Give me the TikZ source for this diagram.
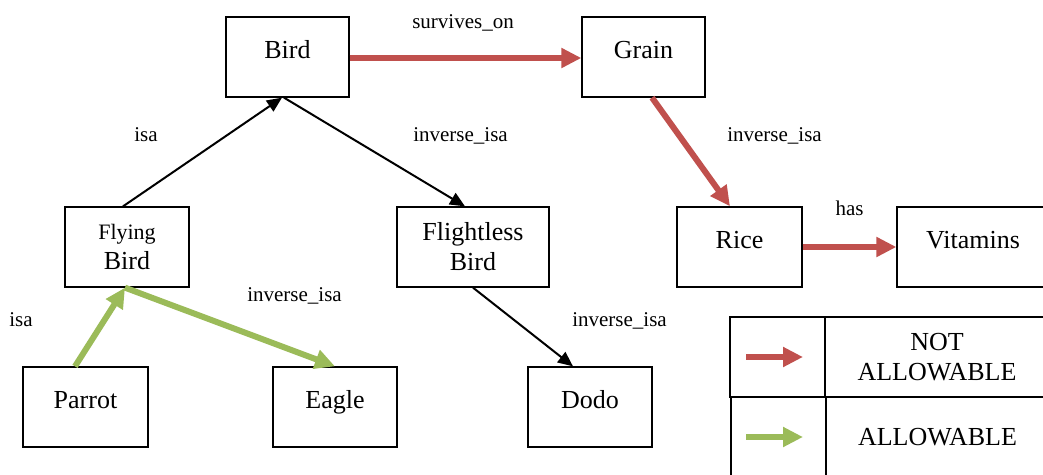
\documentclass[tikz,border=0pt]{standalone}
\usepackage{fontspec}
\setmainfont{Liberation Serif}
\usetikzlibrary{arrows.meta}
\definecolor{denyred}{HTML}{C0504D}
\definecolor{allowgreen}{HTML}{9BBB59}

\begin{document}
\begin{tikzpicture}[x=1pt,y=-1pt,
  concept/.style={draw=black, line width=1.3pt, rectangle, inner sep=0pt,
    minimum width=123pt, minimum height=80pt,
    font=\fontsize{26}{30}\selectfont, align=center},
  oneline/.style={text height=20pt, text depth=17pt},
  rel/.style={font=\fontsize{21}{25}\selectfont, anchor=base, inner sep=0pt},
  isalink/.style={draw=black, line width=2pt, -{Triangle[length=15pt,width=13pt]}},
  denied/.style={draw=denyred, line width=6pt, -{Triangle[length=20pt,width=19pt]}},
  allowed/.style={draw=allowgreen, line width=6pt, -{Triangle[length=20pt,width=19pt]}},
  cell/.style={draw=black, line width=1.3pt, inner sep=0pt, minimum height=80pt,
    font=\fontsize{26}{30}\selectfont, align=center}
]
\useasboundingbox (0,0) rectangle (1043,474);
\clip (0,0) rectangle (1043,474);

% concept boxes
\node[concept, oneline] (bird) at (287.5,57) {Bird};
\node[concept, oneline] (grain) at (643.5,57) {Grain};
\node[concept, minimum width=124pt] (fly) at (127,247)
  {{\fontsize{22}{30}\selectfont Flying}\\Bird};
\node[concept, minimum width=152pt] (flightless) at (473,247) {Flightless\\Bird};
\node[concept, oneline, minimum width=125pt] (rice) at (739.5,247) {Rice};
\node[concept, oneline, minimum width=152pt] (vit) at (973,247) {Vitamins};
\node[concept, oneline, minimum width=125pt] (parrot) at (85.5,407) {Parrot};
\node[concept, oneline, minimum width=124pt] (eagle) at (335,407) {Eagle};
\node[concept, oneline, minimum width=124pt] (dodo) at (590,407) {Dodo};

% relations
\draw[isalink] ([xshift=-4pt]fly.north) -- ([xshift=-5.5pt]bird.south);
\draw[isalink] ([xshift=-3.5pt]bird.south) -- ([xshift=-8pt]flightless.north);
\draw[isalink] (flightless.south) -- ([xshift=-17pt]dodo.north);
\draw[allowed] ([xshift=-10.5pt]parrot.north) -- ([xshift=-2pt]fly.south);
\draw[allowed] ([xshift=-2pt]fly.south) -- (eagle.north);
\draw[denied] ([yshift=-1pt]bird.east) -- ([yshift=-1pt]grain.west);
\draw[denied] ([xshift=8.5pt]grain.south) -- ([xshift=-9.5pt]rice.north);
\draw[denied] (rice.east) -- (vit.west);

% relation labels
\node[rel] (lsurv) at (463,28) {survives\_on};
\node[rel] (lisa1) at (146,141.7) {isa};
\node[rel] (linv1) at (460.5,141.7) {inverse\_isa};
\node[rel] (linv2) at (774.5,141.7) {inverse\_isa};
\node[rel] (lhas) at (849.5,215.7) {has};
\node[rel] (lisa2) at (21,326.7) {isa};
\node[rel] (linv3) at (294.5,301.7) {inverse\_isa};
\node[rel] (linv4) at (619.5,326.7) {inverse\_isa};

% legend
\node[cell, minimum width=95pt] (notsym) at (777.5,357) {};
\node[cell, minimum width=224pt] (nottext) at (937,357) {NOT\\ALLOWABLE};
\node[cell, minimum width=95pt] (oksym) at (778.5,437) {};
\node[cell, minimum width=222pt] (oktext) at (937.5,437) {ALLOWABLE};
\draw[denied] ([xshift=-31.5pt]notsym.center) -- ([xshift=25.5pt]notsym.center);
\draw[allowed] ([xshift=-32.5pt]oksym.center) -- ([xshift=24.5pt]oksym.center);
\end{tikzpicture}
\end{document}
